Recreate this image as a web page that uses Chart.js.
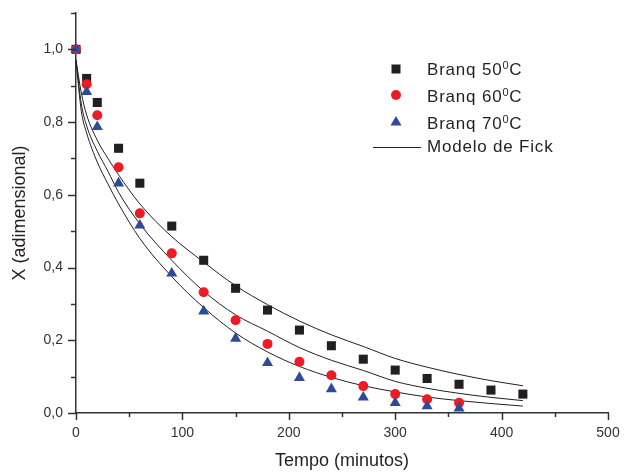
<!DOCTYPE html>
<html>
<head>
<meta charset="utf-8">
<title>Branqueamento - Modelo de Fick</title>
<script src="https://cdn.jsdelivr.net/npm/chart.js"></script>
<style>
  html, body { margin: 0; padding: 0; background: #ffffff; }
  #grafico { display: block; }
</style>
</head>
<body>
<canvas id="grafico" width="628" height="475"></canvas>
<script>
const tempo50 = [0, 10, 20, 40, 60, 90, 120, 150, 180, 210, 240, 270, 300, 330, 360, 390, 420];
const branq50 = [1.0, 0.920, 0.854, 0.728, 0.632, 0.514, 0.420, 0.343, 0.283, 0.228, 0.185, 0.148, 0.118, 0.095, 0.079, 0.063, 0.052];

const tempo60 = [0, 10, 20, 40, 60, 90, 120, 150, 180, 210, 240, 270, 300, 330, 360];
const branq60 = [1.0, 0.904, 0.819, 0.676, 0.549, 0.439, 0.332, 0.255, 0.190, 0.141, 0.104, 0.074, 0.052, 0.038, 0.028];

const tempo70 = [0, 10, 20, 40, 60, 90, 120, 150, 180, 210, 240, 270, 300, 330, 360];
const branq70 = [1.0, 0.883, 0.787, 0.632, 0.516, 0.384, 0.280, 0.205, 0.138, 0.097, 0.066, 0.043, 0.028, 0.019, 0.013];

// --- Curvas do modelo de Fick ---
const tempoFick = [0, 5, 10, 20, 30, 40, 60, 90, 120, 150, 180, 210, 240, 270, 300, 330, 360, 390, 420];
const fick50 = [0.97, 0.88, 0.82, 0.75, 0.70, 0.655, 0.575, 0.485, 0.415, 0.350, 0.298, 0.253, 0.215, 0.183, 0.150, 0.126, 0.106, 0.089, 0.075];
const fick60 = [0.97, 0.85, 0.79, 0.72, 0.665, 0.607, 0.520, 0.420, 0.335, 0.270, 0.225, 0.180, 0.145, 0.117, 0.087, 0.068, 0.054, 0.043, 0.034];
const fick70 = [0.97, 0.83, 0.77, 0.69, 0.630, 0.575, 0.480, 0.375, 0.290, 0.220, 0.168, 0.128, 0.098, 0.075, 0.058, 0.044, 0.034, 0.026, 0.019];

// --- Eixos ---
const ticksX = [0, 100, 200, 300, 400, 500];
const ticksY = ['0,0', '0,2', '0,4', '0,6', '0,8', '1,0'];

const legendas = ['Branq 50', 'Branq 60', 'Branq 70', 'Modelo de Fick'];

const corPreto = '#231f20';
const corVermelho = '#ed1c24';
const corAzul = '#2e4b9b';
const corEixo = '#333333';

const pares = (xs, ys) => xs.map((x, i) => ({ x: x, y: ys[i] }));

function serieFick(dados) {
    return {
        type: 'line',
        data: pares(tempoFick, dados),
        borderColor: corPreto,
        borderWidth: 1,
        pointRadius: 0,
        fill: false,
        cubicInterpolationMode: 'monotone',
        order: 3,
        clip: false
    };
}

// Marcas dos eixos (principais e secundárias), para fora
const marcasEixos = {
    id: 'marcasEixos',
    afterDraw(chart) {
        const ctx = chart.ctx;
        const sx = chart.scales.x;
        const sy = chart.scales.y;
        const base = sy.getPixelForValue(0);
        const esq = sx.getPixelForValue(0);
        ctx.save();
        ctx.strokeStyle = corEixo;
        ctx.lineWidth = 1.5;
        ctx.beginPath();
        for (let v = 0; v <= 500; v += 50) {
            const px = Math.round(sx.getPixelForValue(v)) + 0.5;
            const len = v % 100 === 0 ? 7 : 4;
            ctx.moveTo(px, base);
            ctx.lineTo(px, base + len);
        }
        for (let k = 0; k <= 11; k++) {
            const py = Math.round(sy.getPixelForValue(k / 10)) + 0.5;
            const len = k % 2 === 0 ? 8 : 5;
            ctx.moveTo(esq, py);
            ctx.lineTo(esq - len, py);
        }
        ctx.stroke();
        ctx.restore();
    }
};

// Legenda desenhada dentro da área do gráfico
const legendaInterna = {
    id: 'legendaInterna',
    afterDraw(chart) {
        const ctx = chart.ctx;
        const mx = 396;
        const tx = 427;
        const linhas = [75, 102, 129, 152];
        ctx.save();
        ctx.letterSpacing = '0.8px';
        ctx.textBaseline = 'alphabetic';
        ctx.textAlign = 'left';

        // quadrado
        ctx.fillStyle = corPreto;
        ctx.fillRect(mx - 4.5, linhas[0] - 10.5, 9, 9);
        // círculo
        ctx.fillStyle = corVermelho;
        ctx.beginPath();
        ctx.arc(mx, linhas[1] - 7, 5, 0, Math.PI * 2);
        ctx.fill();
        // triângulo
        ctx.fillStyle = corAzul;
        ctx.beginPath();
        ctx.moveTo(mx, linhas[2] - 13);
        ctx.lineTo(mx + 5.5, linhas[2] - 3.5);
        ctx.lineTo(mx - 5.5, linhas[2] - 3.5);
        ctx.closePath();
        ctx.fill();
        // linha
        ctx.strokeStyle = corPreto;
        ctx.lineWidth = 1;
        ctx.beginPath();
        ctx.moveTo(373, linhas[3] - 4.5);
        ctx.lineTo(421, linhas[3] - 4.5);
        ctx.stroke();

        ctx.fillStyle = '#231f20';
        for (let i = 0; i < 3; i++) {
            let x = tx;
            ctx.font = '17px "Liberation Sans", Arial, sans-serif';
            ctx.fillText(legendas[i], x, linhas[i]);
            x += ctx.measureText(legendas[i]).width;
            ctx.font = '11px "Liberation Sans", Arial, sans-serif';
            ctx.fillText('0', x, linhas[i] - 6);
            x += ctx.measureText('0').width;
            ctx.font = '17px "Liberation Sans", Arial, sans-serif';
            ctx.fillText('C', x, linhas[i]);
        }
        ctx.font = '17px "Liberation Sans", Arial, sans-serif';
        ctx.fillText(legendas[3], tx, linhas[3]);
        ctx.restore();
    }
};

const fonteTicks = { family: '"Liberation Sans", Arial, sans-serif', size: 14 };
const fonteTitulo = { family: '"Liberation Sans", Arial, sans-serif', size: 18 };

new Chart(document.getElementById('grafico'), {
    type: 'scatter',
    data: {
        datasets: [
            {
                label: 'Branq 70°C',
                data: pares(tempo70, branq70),
                pointStyle: 'triangle',
                pointRadius: 6.4,
                backgroundColor: corAzul,
                borderColor: corAzul,
                borderWidth: 0,
                order: 0,
                clip: false
            },
            {
                label: 'Branq 60°C',
                data: pares(tempo60, branq60),
                pointStyle: 'circle',
                pointRadius: 5,
                backgroundColor: corVermelho,
                borderColor: corVermelho,
                borderWidth: 0,
                order: 1,
                clip: false
            },
            {
                label: 'Branq 50°C',
                data: pares(tempo50, branq50),
                pointStyle: 'rect',
                pointRadius: 6.4,
                backgroundColor: corPreto,
                borderColor: corPreto,
                borderWidth: 0,
                order: 2,
                clip: false
            },
            serieFick(fick50),
            serieFick(fick60),
            serieFick(fick70)
        ]
    },
    options: {
        responsive: false,
        animation: false,
        events: [],
        layout: { padding: { top: 13, right: 20, left: 0, bottom: 0 } },
        plugins: {
            legend: { display: false },
            tooltip: { enabled: false }
        },
        scales: {
            x: {
                type: 'linear',
                min: 0,
                max: 500,
                afterFit: (scale) => {
                    scale.height = 62;
                    scale.paddingLeft = 0;
                    scale.paddingRight = 0;
                },
                afterBuildTicks: (scale) => { scale.ticks = ticksX.map(v => ({ value: v })); },
                grid: { display: false, drawTicks: false },
                border: { display: true, color: corEixo, width: 1.5 },
                ticks: {
                    color: corEixo,
                    font: fonteTicks,
                    padding: 12,
                    maxRotation: 0,
                    callback: (v) => String(v)
                },
                title: {
                    display: true,
                    text: 'Tempo (minutos)',
                    color: corPreto,
                    font: fonteTitulo,
                    padding: { top: 0, bottom: 3 }
                }
            },
            y: {
                type: 'linear',
                min: 0,
                max: 1.1,
                afterFit: (scale) => {
                    scale.width = 76;
                    scale.paddingTop = 0;
                    scale.paddingBottom = 0;
                },
                afterBuildTicks: (scale) => { scale.ticks = ticksY.map((t, i) => ({ value: i * 0.2 })); },
                grid: { display: false, drawTicks: false },
                border: { display: true, color: corEixo, width: 1.5 },
                ticks: {
                    color: corEixo,
                    font: fonteTicks,
                    padding: 13,
                    callback: (v, i) => ticksY[i]
                },
                title: {
                    display: true,
                    text: 'X (adimensional)',
                    color: corPreto,
                    font: fonteTitulo,
                    padding: { top: 9, bottom: 0 }
                }
            }
        }
    },
    plugins: [marcasEixos, legendaInterna]
});
</script>
</body>
</html>
